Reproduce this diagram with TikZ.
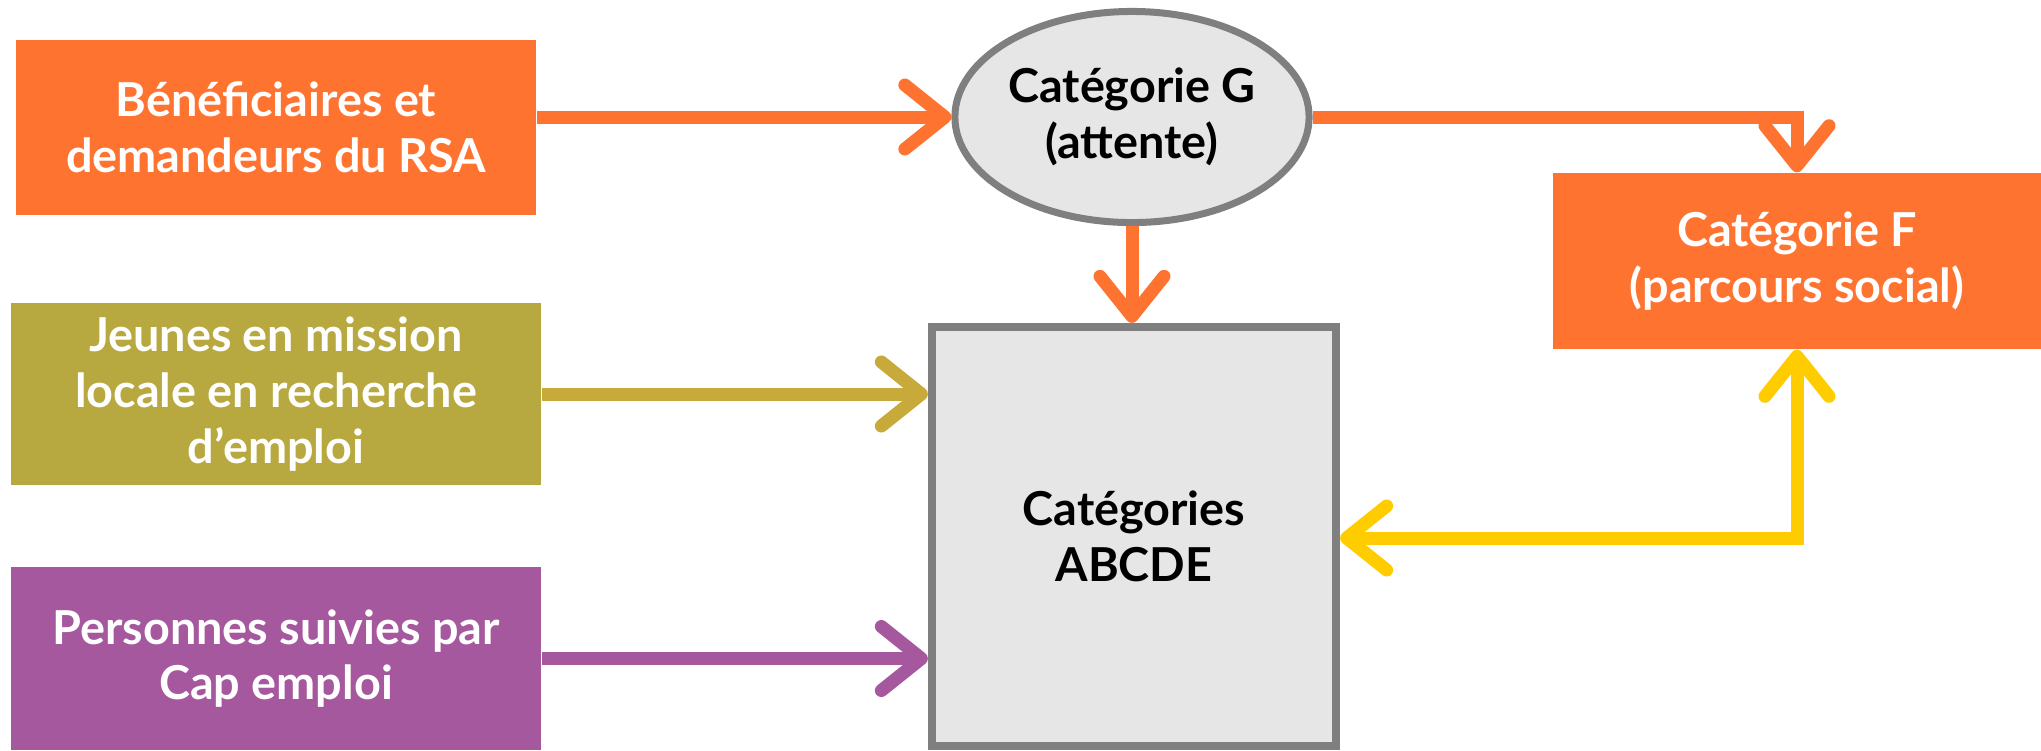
\documentclass[tikz,border=0pt]{standalone}
\usepackage{fontspec}
\setmainfont{Lato}
\usetikzlibrary{arrows.meta,shapes.geometric,positioning,calc}
\definecolor{rsaorange}{HTML}{FF7331}
\definecolor{jeuneolive}{HTML}{B8A840}
\definecolor{jeunearrow}{HTML}{C7AA3A}
\definecolor{capviolet}{HTML}{A6589E}
\definecolor{flowyellow}{HTML}{FFCC00}
\definecolor{catgray}{HTML}{7F7F7F}
\definecolor{catfill}{HTML}{E6E6E6}

\begin{document}
\begin{tikzpicture}[x=0.01cm, y=-0.01cm]
		\tikzstyle{every node}=[font=\fontsize{13.3}{15.8}\selectfont\bfseries, align=center, inner sep=0pt]
		\tikzstyle{srcbox}=[rectangle, text=white]
		\tikzstyle{catbox}=[draw=catgray, fill=catfill, text=black]
		\tikzstyle{flow}=[line width=0.13cm, -{Straight Barb[length=0.4cm, width=0.64cm, round]}]
		\useasboundingbox (0,0) rectangle (2041,750);
		\node [srcbox, fill=rsaorange, minimum width=5.2cm, minimum height=1.75cm] (rsa) at (276,127.5) {Bénéficiaires et\\demandeurs du RSA};
		\node [srcbox, fill=jeuneolive, minimum width=5.3cm, minimum height=1.82cm] (jeunes) at (276,394) {Jeunes en mission\\locale en recherche\\d’emploi};
		\node [srcbox, fill=capviolet, minimum width=5.3cm, minimum height=1.83cm] (cap) at (276,658.5) {Personnes suivies par\\Cap emploi};
		\node [catbox, ellipse, line width=0.07cm, minimum width=3.54cm, minimum height=2.11cm] (catg) at (1132,117) {Catégorie G\\(attente)};
		\node [catbox, rectangle, line width=0.08cm, minimum width=4.04cm, minimum height=4.19cm] (abcde) at (1134,536.5) {Catégories\\ABCDE};
		\node [srcbox, fill=rsaorange, minimum width=4.88cm, minimum height=1.76cm] (catf) at (1797,261) {Catégorie F\\(parcours social)};
		% flux
		\draw [flow, rsaorange] (rsa.east |- catg.west) -- (catg.west);
		\draw [flow, rsaorange] (catg.south) -- (catg.south |- abcde.north);
		\draw [flow, rsaorange] (catg.east) -| (catf.north);
		\draw [flow, jeunearrow] (jeunes.east) -- (jeunes.east -| abcde.west);
		\draw [flow, capviolet] (cap.east) -- (cap.east -| abcde.west);
		\draw [flow, flowyellow, {Straight Barb[length=0.4cm, width=0.64cm, round]}-{Straight Barb[length=0.4cm, width=0.64cm, round]}] (abcde.east |- 0,538) -| (catf.south);
\end{tikzpicture}
\end{document}
